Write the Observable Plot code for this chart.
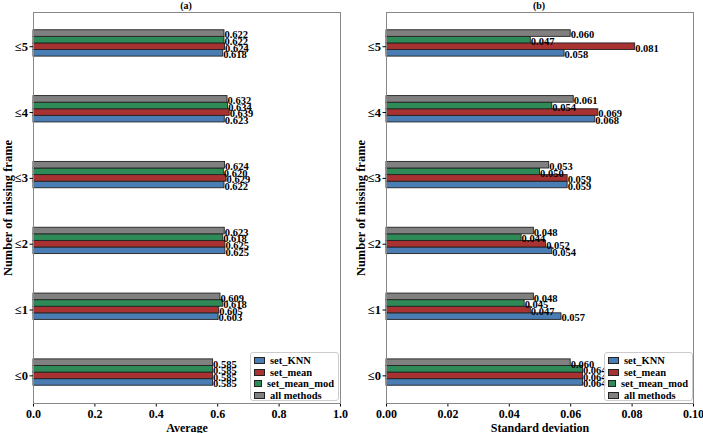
<!DOCTYPE html>
<html>
<head>
<meta charset="utf-8">
<script src="https://cdn.jsdelivr.net/npm/d3@7"></script>
<script src="https://cdn.jsdelivr.net/npm/@observablehq/plot@0.6"></script>
<style>
  html, body { margin: 0; padding: 0; background: #fff; }
  #wrap { position: relative; width: 703px; height: 433px; font-family: "Liberation Serif", "DejaVu Serif", serif; }
  .panel { position: absolute; top: 0; }
  .title { position: absolute; top: 0px; font-size: 10px; font-weight: bold; transform: translateX(-50%); }
  .legend { position: absolute; border: 1px solid #ccc; border-radius: 3px; background: rgba(255,255,255,0.9);
            font-size: 10.5px; font-weight: bold; padding: 2px 4px 1px 3px; box-sizing: border-box; }
  .legend div { display: flex; align-items: center; height: 11.6px; white-space: nowrap; }
  .legend span.sw { display: inline-block; width: 9px; height: 5px; border: 1px solid #222; margin-right: 5px; }
</style>
</head>
<body>
<div id="wrap"></div>
<script>
// ---- data ----
const categories = [0, 1, 2, 3, 4, 5];            // "≤k" missing frames
const methods = ["set_KNN", "set_mean", "set_mean_mod", "all methods"];
const colors = ["#4a7db3", "#a83232", "#2e8b57", "#808080"];
// average values, index by category (≤0..≤5)
const avgKNN     = [0.585, 0.603, 0.625, 0.622, 0.623, 0.618];
const avgMean    = [0.585, 0.605, 0.625, 0.629, 0.639, 0.624];
const avgMeanMod = [0.585, 0.618, 0.618, 0.620, 0.634, 0.622];
const avgAll     = [0.585, 0.609, 0.623, 0.624, 0.632, 0.622];
// standard deviation values
const sdKNN      = [0.064, 0.057, 0.054, 0.059, 0.068, 0.058];
const sdMean     = [0.064, 0.047, 0.052, 0.059, 0.069, 0.081];
const sdMeanMod  = [0.064, 0.045, 0.044, 0.050, 0.054, 0.047];
const sdAll      = [0.060, 0.048, 0.048, 0.053, 0.061, 0.060];
const avgTicks = [0, 0.2, 0.4, 0.6, 0.8, 1.0];
const sdTicks = [0, 0.02, 0.04, 0.06, 0.08, 0.10];

const barW = 0.1;
function rows(series) {
  const out = [];
  series.forEach((vals, j) => {
    categories.forEach((c, i) => {
      out.push({cat: c, method: methods[j], j, value: vals[i], center: c + (j - 1) * barW});
    });
  });
  return out;
}

const font = "Liberation Serif, DejaVu Serif, serif";

function panel({series, xDomain, ticks, fmt, xLabel, left, width, mLeft, mRight, title, titleX, legendLeft}) {
  const data = rows(series);
  const chart = Plot.plot({
    width, height: 433,
    marginLeft: mLeft, marginRight: mRight, marginTop: 12, marginBottom: 30,
    style: {fontFamily: font, fontSize: "11px", fontWeight: "bold", color: "#000", background: "transparent"},
    x: {domain: xDomain},
    y: {domain: [-0.42, 5.52]},
    color: {domain: methods, range: colors},
    marks: [
      Plot.rectX(data, {
        x1: 0, x2: "value",
        y1: d => d.center - barW / 2, y2: d => d.center + barW / 2,
        fill: "method", stroke: "#222", strokeWidth: 0.9
      }),
      Plot.text(data, {
        x: "value", y: d => d.center, text: d => d.value.toFixed(3),
        textAnchor: "start", dx: 0, dy: 1.5, fontSize: 10.5, fontWeight: "bold", fill: "#000"
      }),
      Plot.axisX({ticks, tickFormat: fmt, tickSize: 3.5, tickPadding: 2, fontSize: 12,
        label: xLabel, labelAnchor: "center", labelArrow: "none", labelOffset: 28}),
      Plot.axisY({ticks: categories, tickFormat: d => "≤" + d, tickSize: 3.5, tickPadding: 2, fontSize: 12.5,
        label: "Number of missing frame", labelAnchor: "center", labelArrow: "none", labelOffset: 30}),
      Plot.frame({stroke: "#888", strokeWidth: 1})
    ]
  });
  const div = document.createElement("div");
  div.className = "panel";
  div.style.left = left + "px";
  div.appendChild(chart);
  document.getElementById("wrap").appendChild(div);

  const t = document.createElement("div");
  t.className = "title";
  t.style.left = titleX + "px";
  t.textContent = title;
  document.getElementById("wrap").appendChild(t);

  const lg = document.createElement("div");
  lg.className = "legend";
  lg.style.left = legendLeft + "px";
  lg.style.top = "352px";
  lg.style.width = "89px";
  lg.style.height = "49px";
  methods.forEach((m, j) => {
    const r = document.createElement("div");
    const sw = document.createElement("span");
    sw.className = "sw";
    sw.style.background = colors[j];
    r.appendChild(sw);
    r.appendChild(document.createTextNode(m));
    lg.appendChild(r);
  });
  document.getElementById("wrap").appendChild(lg);
}

panel({series: [avgKNN, avgMean, avgMeanMod, avgAll], xDomain: [0, 1], ticks: avgTicks, fmt: d3.format(".1f"),
  xLabel: "Average", left: 0, width: 351, mLeft: 33, mRight: 11, title: "(a)", titleX: 186, legendLeft: 250});
panel({series: [sdKNN, sdMean, sdMeanMod, sdAll], xDomain: [0, 0.1], ticks: sdTicks, fmt: d3.format(".2f"),
  xLabel: "Standard deviation", left: 351, width: 352, mLeft: 35, mRight: 10, title: "(b)", titleX: 539, legendLeft: 604});
</script>
</body>
</html>
